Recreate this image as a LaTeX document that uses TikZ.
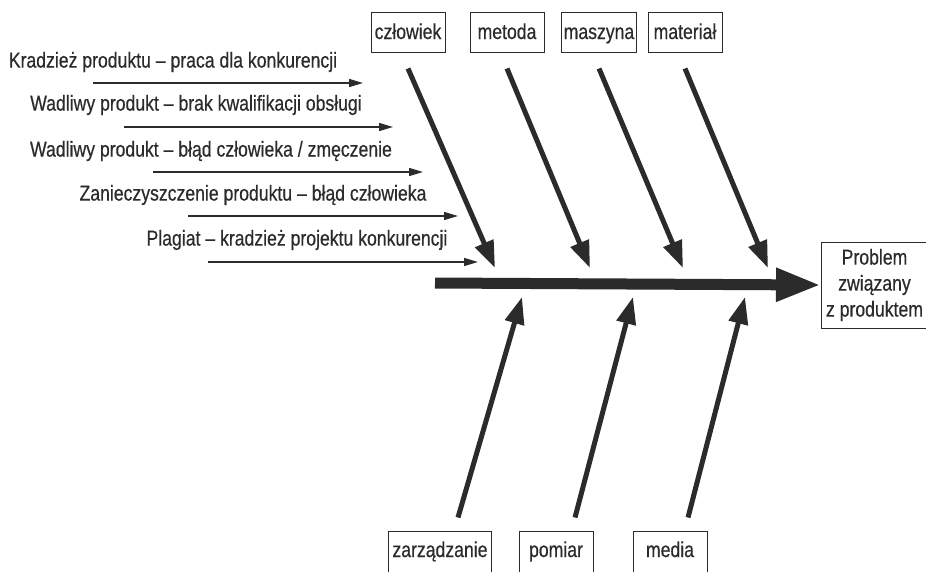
\documentclass[tikz,border=0pt]{standalone}
\usepackage{fontspec}
\setmainfont{Liberation Sans}[FakeStretch=0.82,FakeBold=0.5]
\usetikzlibrary{arrows.meta}
\definecolor{tinte}{HTML}{2B2B2B}

% eine Ursache mit Pfeil: Nr, Textmitte, Pfeil x1, y, x2, Text
\def\grund#1#2#3#4#5#6{
	\node[grund] (g#1) at (#2) {#6};
	\coordinate (ga#1) at (#3,#4);
	\coordinate (gb#1) at (#5,#4);
	\draw[pfeil] (ga#1) -- (gb#1);
}

\begin{document}
\begin{tikzpicture}[x=1pt,y=-1pt,
	every node/.style={font=\fontsize{21.5}{26}\selectfont,text=tinte},
	kasten/.style={draw=tinte,line width=1pt,minimum height=40pt,minimum width=74pt,inner xsep=2pt,text height=15pt,text depth=1pt},
	unten/.style={kasten,minimum height=44pt,text depth=7pt},
	grund/.style={inner sep=0pt},
	pfeil/.style={draw=tinte,line width=1.5pt,-{Triangle[length=14pt,width=8pt]}},
	ast/.style={draw=tinte,line width=5pt,-{Triangle[length=27pt,width=19pt]}}]
\useasboundingbox (0,0) rectangle (926,571);

% Kopf
\node[draw=tinte,line width=1pt,align=center,minimum width=106pt,minimum height=86pt,inner xsep=1.5pt,anchor=west] (problem) at (821,285) {Problem\\związany\\z produktem};
\coordinate (fisch) at (435,283);
\draw[draw=tinte,line width=11pt,-{Triangle[length=45pt,width=31pt]}] (fisch) -- (problem.west);

% Kategorien oben
\node[kasten] (czlowiek) at (408,32) {człowiek};
\node[kasten] (metoda) at (507,32) {metoda};
\node[kasten] (maszyna) at (599,32) {maszyna};
\node[kasten] (material) at (685,32) {materiał};
\coordinate (t1) at (495,268);
\coordinate (t2) at (590,268);
\coordinate (t3) at (683,268);
\coordinate (t4) at (768,268);
\draw[ast] ([yshift=-16pt]czlowiek.south) -- (t1);
\draw[ast] ([yshift=-16pt]metoda.south) -- (t2);
\draw[ast] ([yshift=-16pt]maszyna.south) -- (t3);
\draw[ast] ([yshift=-16pt]material.south) -- (t4);

% Kategorien unten
\node[unten,minimum width=103pt] (zarzadzanie) at (440,553) {zarządzanie};
\node[unten] (pomiar) at (556,553) {pomiar};
\node[unten] (media) at (670,553) {media};
\coordinate (u1) at (522,297);
\coordinate (u2) at (633,297);
\coordinate (u3) at (745,297);
\draw[ast] ([xshift=18pt,yshift=13pt]zarzadzanie.north) -- (u1);
\draw[ast] ([xshift=19pt,yshift=13pt]pomiar.north) -- (u2);
\draw[ast] ([xshift=18pt,yshift=13pt]media.north) -- (u3);

% Ursachen
\grund{1}{173,62}{93}{83}{363}{Kradzież produktu – praca dla konkurencji}
\grund{2}{196,105}{124}{127}{393}{Wadliwy produkt – brak kwalifikacji obsługi}
\grund{3}{211,151}{153}{172}{423}{Wadliwy produkt – błąd człowieka / zmęczenie}
\grund{4}{253,195}{188}{216}{458}{Zanieczyszczenie produktu – błąd człowieka}
\grund{5}{297,240}{208}{262}{478}{Plagiat – kradzież projektu konkurencji}
\end{tikzpicture}
\end{document}
